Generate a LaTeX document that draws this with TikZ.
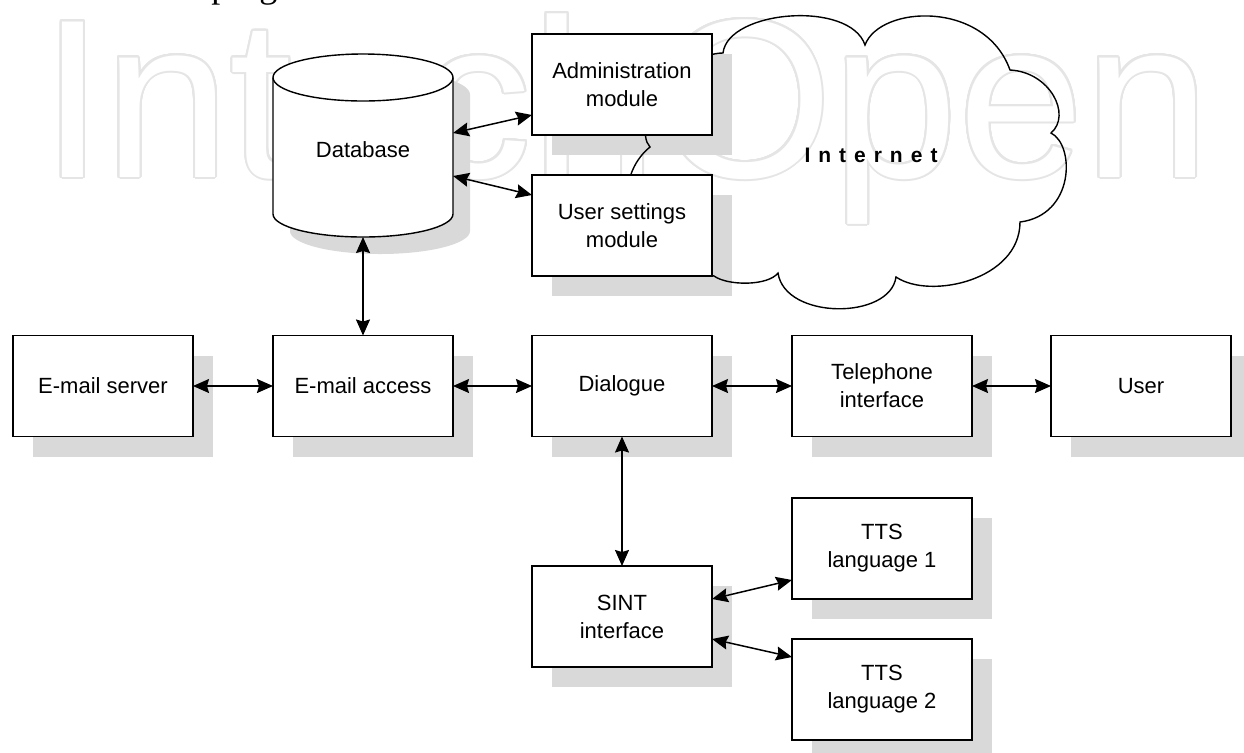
\documentclass[tikz,border=0pt]{standalone}
\usepackage{fontspec}
\setmainfont{Liberation Sans}
\newfontfamily\capserif{Liberation Serif}
\usepackage[copies]{contour}
\contourlength{1pt}
\contournumber{32}
\usetikzlibrary{arrows.meta,calc}
\pgfdeclarelayer{wm}
\pgfdeclarelayer{shadow}
\pgfdeclarelayer{cloudl}
\pgfsetlayers{wm,shadow,cloudl,main}
\begin{document}
\begin{tikzpicture}[x=0.5pt,y=-0.5pt,
  box/.style={draw, line width=0.7pt, fill=white, minimum width=90pt, minimum height=50.5pt,
    inner sep=0pt, outer sep=0pt, align=center, font=\fontsize{11}{14}\selectfont},
  shade/.style={fill=black!15, draw=none},
  link/.style={line width=0.75pt, {Stealth[length=8pt,width=7pt,inset=1pt]}-{Stealth[length=8pt,width=7pt,inset=1pt]}},
  cloudline/.style={line width=0.7pt}]
\useasboundingbox (0,0) rectangle (1244,752);

% watermark
\begin{pgfonlayer}{wm}
\node[anchor=base west, inner sep=0pt, text=white, font=\fontsize{113}{113}\selectfont] (wm) at (41,177) {\contour{black!10}{IntechOpen}};
\end{pgfonlayer}

% cut-off caption text at the top
\node[anchor=base west, inner sep=0pt, font=\capserif\fontsize{18}{18}\selectfont] (cap) at (211,-3) {program};

% database cylinder
\draw[line width=0.7pt, fill=white] (273,77.5) -- (273,214) arc[start angle=180,end angle=0,x radius=90,y radius=23]
  -- (453,77.5) arc[start angle=0,end angle=-180,x radius=90,y radius=23.5] -- cycle;
\draw[line width=0.7pt] (273,77.5) arc[start angle=180,end angle=0,x radius=90,y radius=23.5];
\node[minimum width=90pt, minimum height=91.5pt, inner sep=0pt, outer sep=0pt] (db) at (363,145.5) {};
\node[font=\fontsize{11}{14}\selectfont, inner sep=0pt] (dbtext) at (363,150) {Database};
\begin{pgfonlayer}{shadow}
\fill[shade, shift={(17,17)}] (273,77.5) -- (273,214) arc[start angle=180,end angle=0,x radius=90,y radius=23]
  -- (453,77.5) arc[start angle=0,end angle=-180,x radius=90,y radius=23.5] -- cycle;
\end{pgfonlayer}

% boxes
\node[box] (admin) at (622,84.5) {Administration\\module};
\node[box] (us) at (622,225.5) {User settings\\module};
\node[box] (es) at (103,386) {E-mail server};
\node[box] (ea) at (363,386) {E-mail access};
\node[box] (dlg) at (622,386) {Dialogue};
\node[box] (tel) at (882,386) {Telephone\\interface};
\node[box] (usr) at (1141,386) {User};
\node[box] (sint) at (622,616.5) {SINT\\interface};
\node[box] (tts1) at (882,548.5) {TTS\\language 1};
\node[box] (tts2) at (882,689.5) {TTS\\language 2};

\begin{pgfonlayer}{shadow}
\foreach \n in {admin,us,es,ea,dlg,tel,usr,sint,tts1,tts2}
  \fill[shade] ([shift={(20,20)}]\n.south west) rectangle ([shift={(20,20)}]\n.north east);
\end{pgfonlayer}

% cloud
\begin{pgfonlayer}{cloudl}
\draw[cloudline] (714,276) .. controls (610,250) and (615,175) .. (650,147)
 .. controls (630,125) and (680,53) .. (723,53)
 .. controls (728,10) and (850,0) .. (865,45)
 .. controls (880,5) and (985,0) .. (1010,70)
 .. controls (1050,72) and (1072,115) .. (1051,133)
 .. controls (1075,145) and (1075,215) .. (1020,222)
 .. controls (1020,280) and (930,300) .. (896,277)
 .. controls (890,320) and (785,320) .. (778,273)
 .. controls (768,286) and (728,286) .. (714,276) -- cycle;
\end{pgfonlayer}
\node[inner sep=0pt, font=\bfseries\fontsize{10.5}{12}\selectfont] (inet) at (871,155)
  {I\kern4pt n\kern4pt t\kern4pt e\kern4pt r\kern4pt n\kern4pt e\kern4pt t};

% connectors
\draw[link] ([yshift=6.25pt]db.east) -- ([yshift=-15.25pt]admin.west);
\draw[link] ([yshift=-15.25pt]db.east) -- ([yshift=15.25pt]us.west);
\draw[link] (db.south) -- (ea.north);
\draw[link] (es.east) -- (ea.west);
\draw[link] (ea.east) -- (dlg.west);
\draw[link] (dlg.east) -- (tel.west);
\draw[link] (tel.east) -- (usr.west);
\draw[link] (dlg.south) -- (sint.north);
\draw[link] ([yshift=8.75pt]sint.east) -- ([yshift=-15.75pt]tts1.west);
\draw[link] ([yshift=-11.25pt]sint.east) -- ([yshift=16.25pt]tts2.west);
\end{tikzpicture}
\end{document}
